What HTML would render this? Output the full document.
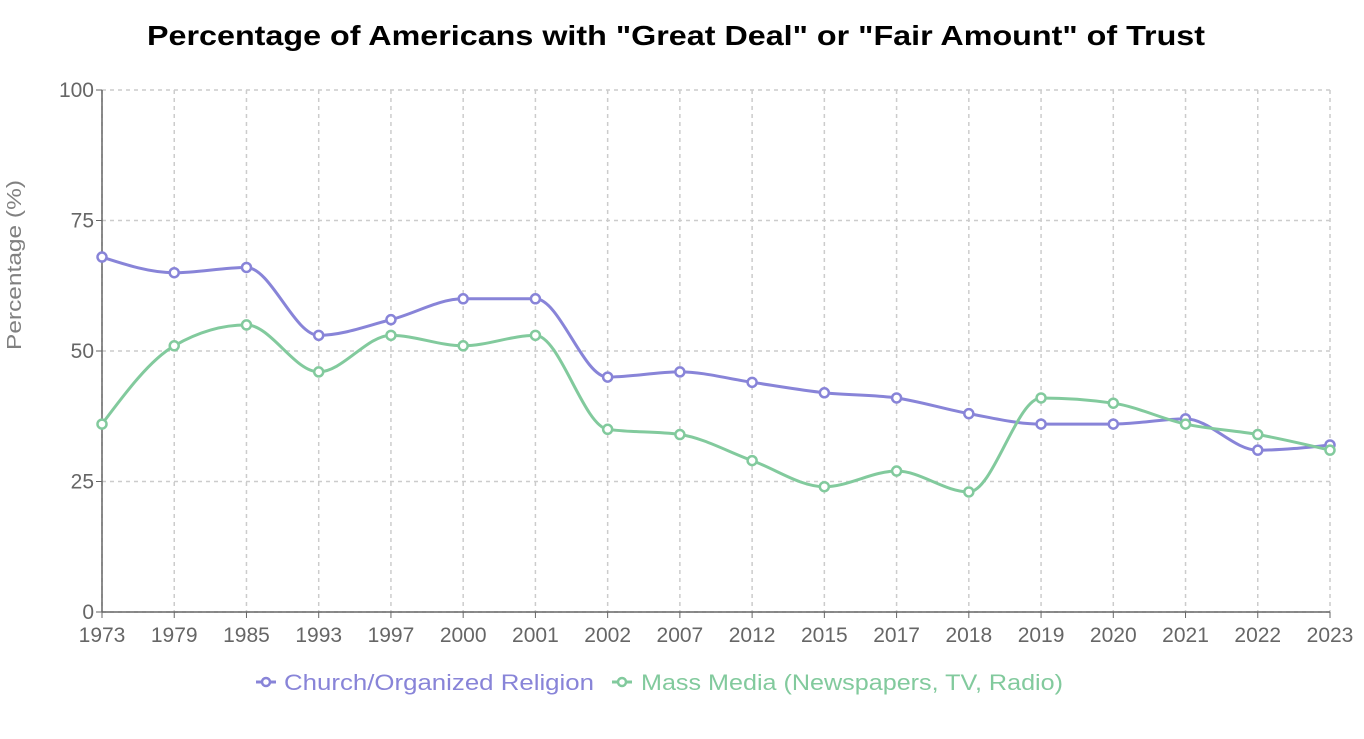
<!DOCTYPE html>
<html><head><meta charset="utf-8">
<style>
html,body{margin:0;padding:0;background:#fff;}
body{width:1364px;height:734px;overflow:hidden;font-family:"Liberation Sans",sans-serif;}
</style></head>
<body>
<svg id="chart" width="1364" height="734" xmlns="http://www.w3.org/2000/svg">
<text x="676" y="45" text-anchor="middle" font-size="28" font-weight="bold" fill="#000" textLength="1058" lengthAdjust="spacingAndGlyphs">Percentage of Americans with "Great Deal" or "Fair Amount" of Trust</text>
<g id="grid"></g>
<g id="axes"></g>
<g id="series"></g>
<text transform="translate(21,265) rotate(-90)" text-anchor="middle" font-size="20" fill="#808080" textLength="170" lengthAdjust="spacingAndGlyphs">Percentage (%)</text>
<g>
 <g>
  <line x1="256" y1="682" x2="276" y2="682" stroke="#8884d8" stroke-width="3"/>
  <circle cx="266" cy="682" r="4" fill="#fff" stroke="#8884d8" stroke-width="2.5"/>
  <text x="284" y="690" font-size="22" fill="#8884d8" textLength="310" lengthAdjust="spacingAndGlyphs">Church/Organized Religion</text>
 </g>
 <g>
  <line x1="612" y1="682" x2="632" y2="682" stroke="#82ca9d" stroke-width="3"/>
  <circle cx="622" cy="682" r="4" fill="#fff" stroke="#82ca9d" stroke-width="2.5"/>
  <text x="641" y="690" font-size="22" fill="#82ca9d" textLength="422" lengthAdjust="spacingAndGlyphs">Mass Media (Newspapers, TV, Radio)</text>
 </g>
</g>
</svg>
<script>
const years = ["1973","1979","1985","1993","1997","2000","2001","2002","2007","2012","2015","2017","2018","2019","2020","2021","2022","2023"];
const churchValues = [68,65,66,53,56,60,60,45,46,44,42,41,38,36,36,37,31,32];
const mediaValues = [36,51,55,46,53,51,53,35,34,29,24,27,23,41,40,36,34,31];
const yTicks = [0,25,50,75,100];

const NS="http://www.w3.org/2000/svg";
const X0=102,X1=1330,Y0=612,Y1=90;
const xs=i=>X0+(X1-X0)*i/(years.length-1);
const ys=v=>Y0-(Y0-Y1)*v/100;
function mk(tag,attrs,parent){const e=document.createElementNS(NS,tag);for(const k in attrs)e.setAttribute(k,attrs[k]);parent.appendChild(e);return e;}
const grid=document.getElementById('grid'),axes=document.getElementById('axes'),series=document.getElementById('series');
yTicks.forEach(t=>{
  const l=mk('line',{x1:X0,x2:X1,y1:ys(t),y2:ys(t),stroke:'#ccc','stroke-dasharray':'4 4','stroke-width':1.5},grid);
  
  
  mk('line',{x1:X0-6,x2:X0,y1:ys(t),y2:ys(t),stroke:'#666'},axes);
  const tx=mk('text',{x:X0-8,y:ys(t)+7,'text-anchor':'end','font-size':21,fill:'#666'},axes);
  tx.textContent=t;
  
  
});
years.forEach((y,i)=>{
  const l=mk('line',{x1:xs(i),x2:xs(i),y1:Y1,y2:Y0,stroke:'#ccc','stroke-dasharray':'4 4','stroke-width':1.5},grid);
  
  
  mk('line',{x1:xs(i),x2:xs(i),y1:Y0,y2:Y0+6,stroke:'#666'},axes);
  const tx=mk('text',{x:xs(i),y:Y0+30,'text-anchor':'middle','font-size':21,fill:'#666'},axes);
  tx.textContent=y;
  
  
});
mk('line',{x1:X0,x2:X0,y1:Y1,y2:Y0,stroke:'#666','stroke-width':1.5},axes);
mk('line',{x1:X0,x2:X1,y1:Y0,y2:Y0,stroke:'#666','stroke-width':1.5},axes);

function monotonePath(px,py){
  const n=px.length,d=[],m=[];
  for(let i=0;i<n-1;i++)d.push((py[i+1]-py[i])/(px[i+1]-px[i]));
  for(let i=0;i<n;i++){
    if(i===0)m.push(d[0]);else if(i===n-1)m.push(d[n-2]);
    else{ if(d[i-1]*d[i]<=0)m.push(0);else{const h0=px[i]-px[i-1],h1=px[i+1]-px[i];
      const p=(d[i-1]*h1+d[i]*h0)/(h0+h1);
      m.push((Math.sign(d[i-1])+Math.sign(d[i]))*Math.min(Math.abs(d[i-1]),Math.abs(d[i]),0.5*Math.abs(p)));}}
  }
  if(n>2){ m[0]=(3*d[0]-m[1])/2; m[n-1]=(3*d[n-2]-m[n-2])/2; }
  let s=`M${px[0]},${py[0]}`;
  for(let i=0;i<n-1;i++){const dx=(px[i+1]-px[i])/3;
    s+=`C${px[i]+dx},${py[i]+dx*m[i]} ${px[i+1]-dx},${py[i+1]-dx*m[i+1]} ${px[i+1]},${py[i+1]}`;}
  return s;
}
function drawSeries(vals,color,name){
  const g=mk('g',{},series);
  
  
  const px=vals.map((v,i)=>xs(i)),py=vals.map(ys);
  const p=mk('path',{d:monotonePath(px,py),fill:'none',stroke:color,'stroke-width':3},g);
  
  
  vals.forEach((v,i)=>{
    const c=mk('circle',{cx:px[i],cy:py[i],r:4.5,fill:'#fff',stroke:color,'stroke-width':2.5},g);
    
    
  });
}
drawSeries(churchValues,'#8884d8','church-series');
drawSeries(mediaValues,'#82ca9d','media-series');
</script>
</body></html>
